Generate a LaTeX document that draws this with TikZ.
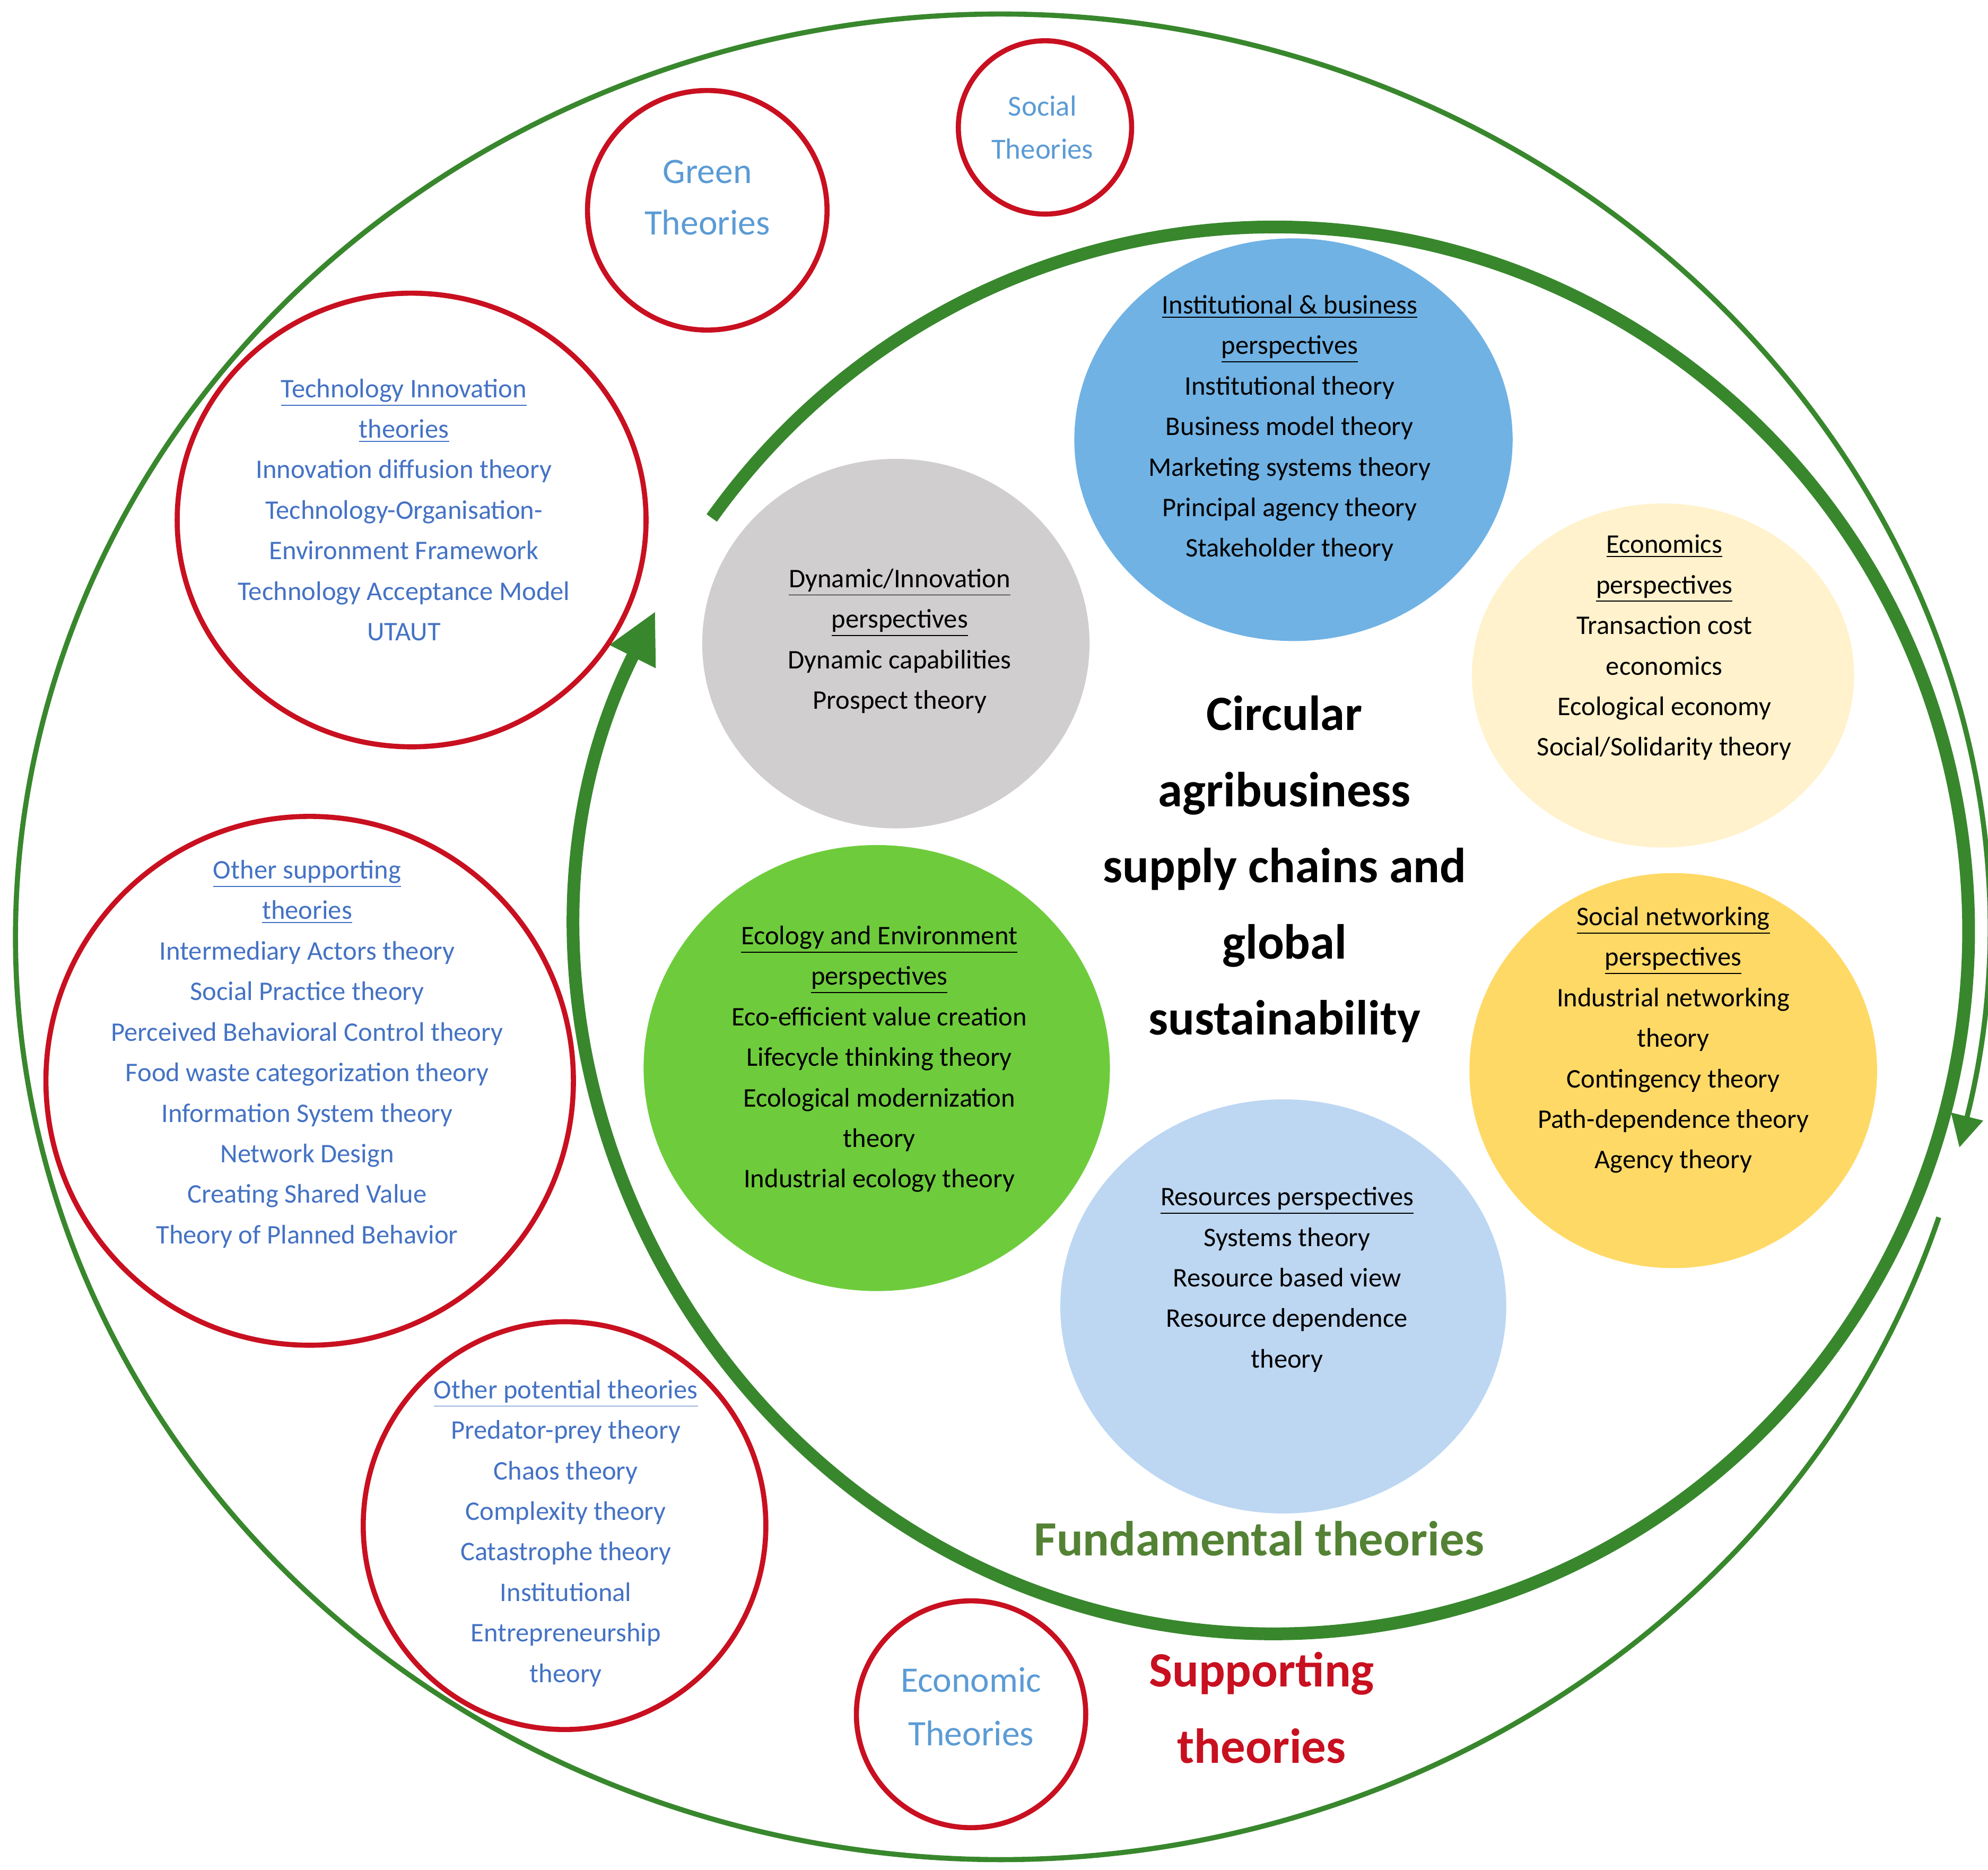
\documentclass[tikz,border=0pt]{standalone}
\usepackage{fontspec}
\setmainfont{Carlito}
\usetikzlibrary{shapes.geometric,arrows.meta}
\definecolor{cred}{RGB}{200,16,32}
\definecolor{cgreen}{RGB}{56,135,45}
\definecolor{fgreen}{RGB}{84,130,53}
\definecolor{tblue}{RGB}{68,114,196}
\definecolor{lblue}{RGB}{91,155,213}
\definecolor{cinst}{RGB}{112,178,228}
\definecolor{cdyn}{RGB}{208,206,206}
\definecolor{cecon}{RGB}{255,242,204}
\definecolor{ceco}{RGB}{110,204,60}
\definecolor{csoc}{RGB}{255,217,102}
\definecolor{cres}{RGB}{189,215,242}
\begin{document}
\begin{tikzpicture}[x=0.02cm,y=0.02cm,
  redc/.style={draw=cred,line width=0.08cm,ellipse,inner sep=0pt},
  fillc/.style={fill=#1,draw=none,ellipse,inner sep=0pt},
  btxt/.style={align=center,text=tblue,font=\fontsize{12}{18.1}\selectfont},
  ktxt/.style={align=center,text=black,font=\fontsize{12}{18.1}\selectfont},
  ttxt/.style={align=center,text=lblue}]
\useasboundingbox (0,0) rectangle (1560,1467);
% outer thin arrow
\draw[cgreen,line width=0.08cm,-{Triangle[length=0.5cm,width=0.5cm]}] (1521.4,511.9) arc[start angle=-17.7,end angle=-373.2,x radius=15.46cm,y radius=14.48cm];
% inner thick arrow
\draw[cgreen,line width=0.2cm,-{Triangle[length=0.8cm,width=0.75cm]}] (558.5,1060.6) arc[start angle=144.1,end angle=-207,x radius=10.9cm,y radius=11.04cm];
% red circles
\node[redc,minimum width=3.76cm,minimum height=3.76cm] (green) at (555,1302) {};
\node[redc,minimum width=2.72cm,minimum height=2.72cm] (social) at (820,1367) {};
\node[redc,minimum width=7.36cm,minimum height=7.12cm] (tech) at (323,1059) {};
\node[redc,minimum width=8.28cm,minimum height=8.3cm] (osup) at (243,619) {};
\node[redc,minimum width=6.32cm,minimum height=6.4cm] (opot) at (443,270) {};
\node[redc,minimum width=3.6cm,minimum height=3.56cm] (econ) at (762,122) {};
% filled circles
\node[fillc=cinst,minimum width=6.88cm,minimum height=6.32cm] (inst) at (1015,1122) {};
\node[fillc=cdyn,minimum width=6.08cm,minimum height=5.8cm] (dyn) at (703,962) {};
\node[fillc=cecon,minimum width=6.0cm,minimum height=5.4cm] (econs) at (1305,937) {};
\node[fillc=ceco,minimum width=7.32cm,minimum height=7.0cm] (eco) at (688,629) {};
\node[fillc=csoc,minimum width=6.4cm,minimum height=6.2cm] (socnet) at (1313,627) {};
\node[fillc=cres,minimum width=7.0cm,minimum height=6.5cm] (res) at (1007,442) {};
% labels
\node[ttxt,font=\fontsize{16}{23}\selectfont] (greent) at (555,1312) {Green\\Theories};
\node[ttxt,font=\fontsize{13}{19}\selectfont] (socialt) at (818,1367) {Social\\Theories};
\node[ttxt,font=\fontsize{16}{24}\selectfont] (econt) at (762,128) {Economic\\Theories};
\node[btxt] (techt) at (317,1067) {\underline{Technology Innovation}\\\underline{theories}\\Innovation diffusion theory\\Technology-Organisation-\\Environment Framework\\Technology Acceptance Model\\UTAUT};
\node[btxt] (osupt) at (241,640) {\underline{Other supporting}\\\underline{theories}\\Intermediary Actors theory\\Social Practice theory\\Perceived Behavioral Control theory\\Food waste categorization theory\\Information System theory\\Network Design\\Creating Shared Value\\Theory of Planned Behavior};
\node[btxt] (opott) at (444,264) {\underline{Other potential theories}\\Predator-prey theory\\Chaos theory\\Complexity theory\\Catastrophe theory\\Institutional\\Entrepreneurship\\theory};
\node[ktxt] (instt) at (1012,1131) {\underline{Institutional \& business}\\\underline{perspectives}\\Institutional theory\\Business model theory\\Marketing systems theory\\Principal agency theory\\Stakeholder theory};
\node[ktxt] (dynt) at (706,964) {\underline{Dynamic/Innovation}\\\underline{perspectives}\\Dynamic capabilities\\Prospect theory};
\node[ktxt] (econst) at (1306,959) {\underline{Economics}\\\underline{perspectives}\\Transaction cost\\economics\\Ecological economy\\Social/Solidarity theory};
\node[ktxt] (ecot) at (690,636) {\underline{Ecology and Environment}\\\underline{perspectives}\\Eco-efficient value creation\\Lifecycle thinking theory\\Ecological modernization\\theory\\Industrial ecology theory};
\node[ktxt] (socnett) at (1313,651) {\underline{Social networking}\\\underline{perspectives}\\Industrial networking\\theory\\Contingency theory\\Path-dependence theory\\Agency theory};
\node[ktxt] (rest) at (1010,463) {\underline{Resources perspectives}\\Systems theory\\Resource based view\\Resource dependence\\theory};
\node[align=center,font=\bfseries\fontsize{22}{34}\selectfont] (center) at (1008,785) {Circular\\agribusiness\\supply chains and\\global\\sustainability};
\node[text=fgreen,font=\bfseries\fontsize{22}{30}\selectfont] (fund) at (988,260) {Fundamental theories};
\node[text=cred,align=center,font=\bfseries\fontsize{22}{34}\selectfont] (supp) at (990,127) {Supporting\\theories};
\end{tikzpicture}
\end{document}
